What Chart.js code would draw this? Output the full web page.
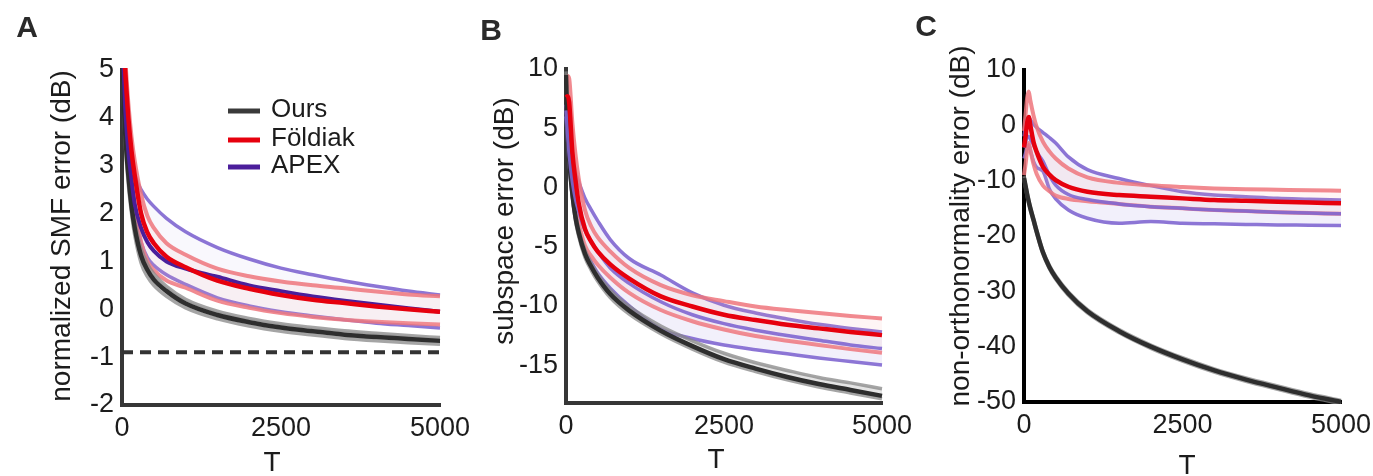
<!DOCTYPE html>
<html><head><meta charset="utf-8">
<script src="https://cdn.jsdelivr.net/npm/chart.js@4/dist/chart.umd.min.js"></script>
<style>
html,body{margin:0;padding:0;background:#fff;width:1373px;height:476px;overflow:hidden}
canvas{position:absolute;left:0;top:0}
</style></head>
<body>
<canvas id="cA" width="1373" height="476"></canvas>
<canvas id="cB" width="1373" height="476"></canvas>
<canvas id="cC" width="1373" height="476"></canvas>
<script>
// ---------- data ----------
const seriesNames = ['Ours', 'Földiak', 'APEX'];
const xTicks = [0, 2500, 5000];
const yTicksA = [-2, -1, 0, 1, 2, 3, 4, 5];
const yTicksB = [-15, -10, -5, 0, 5, 10];
const yTicksC = [-50, -40, -30, -20, -10, 0, 10];
const baselineA = -0.9;

// Panel A: normalized SMF error (dB)
const T_A = [0, 25, 50, 100, 150, 200, 300, 400, 500, 700, 1000, 1500, 2000, 2500, 3000, 3500, 4000, 4500, 5000];
const oursA    = [6.0, 4.5, 3.7, 2.8, 2.15, 1.7, 1.12, 0.82, 0.62, 0.38, 0.12, -0.12, -0.27, -0.38, -0.46, -0.53, -0.58, -0.62, -0.66];
const oursA_hi = [6.2, 4.7, 3.9, 3.0, 2.3, 1.85, 1.27, 0.95, 0.74, 0.48, 0.21, -0.04, -0.19, -0.30, -0.38, -0.45, -0.50, -0.55, -0.59];
const oursA_lo = [5.8, 4.3, 3.5, 2.6, 2.0, 1.55, 0.97, 0.68, 0.50, 0.27, 0.03, -0.20, -0.35, -0.46, -0.54, -0.61, -0.66, -0.70, -0.73];
const foldA    = [6.5, 5.6, 5.0, 4.0, 3.3, 2.8, 2.0, 1.6, 1.38, 1.1, 0.88, 0.60, 0.43, 0.30, 0.20, 0.13, 0.06, 0.00, -0.05];
const foldA_hi = [7.0, 6.0, 5.3, 4.3, 3.6, 3.1, 2.4, 1.95, 1.7, 1.38, 1.14, 0.85, 0.69, 0.58, 0.50, 0.44, 0.37, 0.31, 0.27];
const foldA_lo = [6.0, 5.2, 4.6, 3.5, 2.8, 2.2, 1.4, 1.0, 0.82, 0.60, 0.45, 0.18, 0.03, -0.08, -0.16, -0.22, -0.26, -0.29, -0.32];
const apexA    = [6.0, 5.0, 4.2, 3.3, 2.7, 2.2, 1.7, 1.4, 1.22, 1.0, 0.85, 0.68, 0.50, 0.38, 0.27, 0.18, 0.10, 0.02, -0.05];
const apexA_hi = [6.5, 5.4, 4.6, 3.6, 3.1, 2.8, 2.5, 2.3, 2.15, 1.9, 1.62, 1.29, 1.05, 0.86, 0.72, 0.59, 0.48, 0.38, 0.30];
const apexA_lo = [5.5, 4.6, 3.9, 3.0, 2.4, 1.95, 1.4, 1.08, 0.92, 0.72, 0.52, 0.24, 0.07, -0.05, -0.14, -0.22, -0.29, -0.34, -0.39];

// Panel B: subspace error (dB)
const T_B = [0, 25, 50, 100, 150, 200, 300, 400, 500, 700, 1000, 1500, 2000, 2500, 3000, 3500, 4000, 4500, 5000];
const oursB    = [9.5, 5.0, 2.5, -0.5, -2.5, -3.8, -5.6, -6.7, -7.6, -9.0, -10.4, -12.1, -13.4, -14.5, -15.3, -16.0, -16.6, -17.1, -17.6];
const oursB_hi = [9.8, 5.3, 2.8, -0.2, -2.2, -3.5, -5.3, -6.4, -7.3, -8.65, -10.05, -11.7, -12.95, -14.0, -14.8, -15.45, -16.05, -16.5, -17.0];
const oursB_lo = [9.2, 4.7, 2.2, -0.8, -2.8, -4.1, -5.9, -7.0, -7.9, -9.3, -10.7, -12.35, -13.65, -14.75, -15.55, -16.25, -16.85, -17.35, -17.85];
const foldB    = [7.6, 7.7, 7.2, 3.0, 0.6, -1.3, -3.5, -4.6, -5.4, -6.5, -7.7, -9.2, -10.05, -10.75, -11.2, -11.6, -11.9, -12.2, -12.47];
const foldB_hi = [9.3, 9.4, 9.2, 5.5, 2.8, 0.8, -1.9, -3.3, -4.2, -5.4, -6.8, -8.25, -9.1, -9.6, -10.05, -10.35, -10.6, -10.85, -11.06];
const foldB_lo = [6.0, 6.0, 5.5, 1.2, -1.1, -2.9, -4.9, -5.8, -6.5, -7.6, -8.9, -10.35, -11.3, -12.0, -12.55, -12.95, -13.3, -13.65, -13.96];
const apexB    = [6.5, 4.5, 2.8, 0.5, -1.0, -2.0, -3.6, -4.6, -5.4, -6.8, -8.1, -9.65, -10.75, -11.5, -12.05, -12.5, -12.9, -13.3, -13.6];
const apexB_hi = [7.0, 5.5, 4.0, 2.8, 1.3, 0.5, -0.9, -1.9, -2.8, -4.4, -6.0, -7.4, -8.9, -9.95, -10.6, -11.1, -11.55, -11.9, -12.2];
const apexB_lo = [6.0, 4.0, 2.0, -0.8, -2.6, -3.7, -5.3, -6.3, -7.2, -8.5, -10.0, -11.95, -12.75, -13.3, -13.7, -14.05, -14.4, -14.7, -15.0];

// Panel C: non-orthonormality error (dB)
const T_C = [0, 25, 50, 75, 100, 150, 200, 300, 400, 500, 700, 1000, 1500, 2000, 2500, 3000, 3500, 4000, 4500, 5000];
const oursC    = [-9.5, -11.0, -12.5, -13.8, -15.0, -17.1, -19.2, -23.0, -25.6, -27.5, -30.4, -33.6, -37.2, -40.0, -42.3, -44.3, -45.95, -47.4, -48.8, -50.0];
const oursC_hi = [-9.2, -10.7, -12.2, -13.5, -14.7, -16.8, -18.9, -22.7, -25.3, -27.2, -30.1, -33.3, -36.9, -39.7, -42.0, -44.0, -45.65, -47.1, -48.5, -49.7];
const oursC_lo = [-9.8, -11.3, -12.8, -14.1, -15.3, -17.4, -19.5, -23.3, -25.9, -27.8, -30.7, -33.9, -37.5, -40.3, -42.6, -44.6, -46.25, -47.7, -49.1, -50.3];
const foldC    = [-4.0, -2.0, 0.5, 1.5, 0.0, -3.0, -4.8, -7.5, -8.9, -9.9, -11.1, -12.0, -12.6, -12.9, -13.2, -13.5, -13.65, -13.8, -13.95, -14.1];
const foldC_hi = [-1.0, 2.0, 5.0, 6.1, 4.5, 1.8, -0.3, -3.0, -4.7, -6.0, -7.8, -9.4, -10.4, -10.85, -11.15, -11.4, -11.55, -11.65, -11.75, -11.8];
const foldC_lo = [-9.0, -7.0, -4.5, -3.2, -4.5, -7.0, -8.8, -10.9, -11.9, -12.7, -13.3, -13.7, -14.2, -14.7, -15.0, -15.3, -15.5, -15.7, -15.85, -16.0];
const apexC    = [-4.0, -3.0, -2.0, -2.0, -2.5, -3.5, -4.8, -6.5, -9.0, -10.8, -12.5, -13.4, -14.2, -14.7, -15.0, -15.3, -15.5, -15.7, -15.85, -16.0];
const apexC_hi = [-2.0, 0.0, 1.0, 1.5, 1.0, 0.2, -0.4, -1.3, -2.2, -3.2, -5.7, -8.0, -9.6, -10.9, -12.0, -12.6, -12.9, -13.2, -13.35, -13.5];
const apexC_lo = [-6.0, -5.0, -4.0, -3.5, -4.5, -6.5, -7.6, -8.3, -11.5, -13.3, -15.3, -16.8, -17.7, -17.4, -17.7, -17.8, -17.9, -18.0, -18.05, -18.1];

// ---------- styling ----------
const FONT = '"Liberation Sans", Arial, Helvetica, sans-serif';
const COL = {
  ours: '#2e2e2e', oursEdge: 'rgba(135,135,135,0.75)', oursFill: 'rgba(165,165,165,0.30)',
  fold: '#e6000e', foldEdge: 'rgba(238,118,124,0.85)', foldFill: 'rgba(245,170,175,0.12)',
  apexEdge: 'rgba(128,102,208,0.9)'
};
const legendColors = ['#3a3a3a', '#e6000e', '#4b1e9b'];

function pts(xs, ys) { return xs.map((x, i) => ({ x: x, y: ys[i] })); }
function line(data, color, width, extra) {
  return Object.assign({ data: data, borderColor: color, borderWidth: width, pointRadius: 0,
    fill: false, cubicInterpolationMode: 'monotone', clip: 2 }, extra || {});
}
function buildDatasets(T, s, st, baseline) {
  const ds = [];
  if (baseline !== undefined) {
    ds.push(line([{ x: T[0], y: baseline }, { x: T[T.length - 1], y: baseline }], '#333', 4,
      { borderDash: [11, 7], cubicInterpolationMode: 'default' }));
  }
  ds.push(line(pts(T, s.fold), COL.fold, 4.5));
  ds.push(line(pts(T, s.apex), st.apexMean, st.apexMeanW));
  ds.push(line(pts(T, s.ours), COL.ours, 4.5));
  const n = ds.length;
  ds.push(line(pts(T, s.oursHi), COL.oursEdge, 3.5, { fill: n + 1, backgroundColor: COL.oursFill }));
  ds.push(line(pts(T, s.oursLo), COL.oursEdge, 3.5));
  ds.push(line(pts(T, s.foldHi), COL.foldEdge, 4, { fill: n + 3, backgroundColor: COL.foldFill }));
  ds.push(line(pts(T, s.foldLo), COL.foldEdge, 4));
  ds.push(line(pts(T, s.apexHi), COL.apexEdge, 3.5, { fill: n + 5, backgroundColor: st.apexFill }));
  ds.push(line(pts(T, s.apexLo), COL.apexEdge, 3.5));
  return ds;
}

function drawAnnot(c, a) {
  c.save();
  c.textAlign = 'center';
  c.textBaseline = 'middle';
  c.font = 'bold 30px ' + FONT;
  c.fillStyle = '#2a2a2a';
  c.fillText(a.letter, a.letterX, a.letterY);
  c.fillStyle = '#1c1c1c';
  c.font = '28px ' + FONT;
  c.fillText('T', a.xTitleX, a.xTitleY);
  c.save();
  c.translate(a.yTitleX, a.yTitleY);
  c.rotate(-Math.PI / 2);
  c.fillText(a.yTitle, 0, 0);
  c.restore();
  if (a.legend) {
    const L = a.legend;
    c.font = '26px ' + FONT;
    c.textAlign = 'left';
    seriesNames.forEach((name, i) => {
      const y = L.ys[i];
      c.strokeStyle = legendColors[i];
      c.lineWidth = 5;
      c.beginPath(); c.moveTo(L.x1, y); c.lineTo(L.x2, y); c.stroke();
      c.fillStyle = '#1c1c1c';
      c.fillText(name, L.tx, y - 1);
    });
  }
  c.restore();
}

function makeChart(id, cfg) {
  const area = cfg.area;
  const tickFont = { family: FONT, size: 27 };
  new Chart(document.getElementById(id), {
    type: 'line',
    data: { datasets: cfg.datasets },
    options: {
      responsive: false, animation: false, devicePixelRatio: 1,
      layout: { padding: { left: 0, right: 1373 - area.right, top: area.top, bottom: 0 } },
      plugins: { legend: { display: false }, tooltip: { enabled: false } },
      scales: {
        x: {
          type: 'linear', min: 0, max: 5000,
          grid: { display: false, drawTicks: false },
          border: { display: true, color: cfg.axisColor, width: 4 },
          ticks: { font: tickFont, color: '#1c1c1c', padding: 7, maxRotation: 0, autoSkip: false,
            callback: v => String(v) },
          afterBuildTicks: sc => { sc.ticks = xTicks.map(v => ({ value: v })); },
          afterFit: sc => { sc.height = 476 - area.bottom; sc.paddingLeft = 0; sc.paddingRight = 0; }
        },
        y: {
          type: 'linear', min: cfg.yMin, max: cfg.yMax,
          grid: { display: false, drawTicks: false },
          border: { display: true, color: cfg.axisColor, width: 4 },
          ticks: { font: tickFont, color: '#1c1c1c', padding: 8, autoSkip: false,
            callback: v => String(v) },
          afterBuildTicks: sc => { sc.ticks = cfg.yTicks.map(v => ({ value: v })); },
          afterFit: sc => { sc.width = area.left; sc.paddingTop = 0; sc.paddingBottom = 0; }
        }
      }
    },
    plugins: [{ id: 'annot' + id, afterDraw: chart => drawAnnot(chart.ctx, cfg.annot) }]
  });
}

makeChart('cA', {
  area: { left: 122, right: 440, top: 70, bottom: 405 },
  yMin: -2, yMax: 5, yTicks: yTicksA, axisColor: '#363636',
  datasets: buildDatasets(T_A, { ours: oursA, oursHi: oursA_hi, oursLo: oursA_lo,
    fold: foldA, foldHi: foldA_hi, foldLo: foldA_lo, apex: apexA, apexHi: apexA_hi, apexLo: apexA_lo },
    { apexMean: '#4a1f9b', apexMeanW: 4, apexFill: 'rgba(150,130,225,0.06)' }, baselineA),
  annot: { letter: 'A', letterX: 27, letterY: 29, xTitleX: 272, xTitleY: 463,
    yTitle: 'normalized SMF error (dB)', yTitleX: 62, yTitleY: 236,
    legend: { x1: 228, x2: 260, tx: 271, ys: [111, 140, 167] } }
});
makeChart('cB', {
  area: { left: 566, right: 882, top: 69, bottom: 403 },
  yMin: -18.2, yMax: 10, yTicks: yTicksB, axisColor: '#363636',
  datasets: buildDatasets(T_B, { ours: oursB, oursHi: oursB_hi, oursLo: oursB_lo,
    fold: foldB, foldHi: foldB_hi, foldLo: foldB_lo, apex: apexB, apexHi: apexB_hi, apexLo: apexB_lo },
    { apexMean: 'rgba(128,102,208,0.9)', apexMeanW: 3.5, apexFill: 'rgba(150,130,225,0.12)' }),
  annot: { letter: 'B', letterX: 491, letterY: 32, xTitleX: 716, xTitleY: 460,
    yTitle: 'subspace error (dB)', yTitleX: 505, yTitleY: 221 }
});
makeChart('cC', {
  area: { left: 1024, right: 1341, top: 70, bottom: 402 },
  yMin: -50, yMax: 10, yTicks: yTicksC, axisColor: '#000000',
  datasets: buildDatasets(T_C, { ours: oursC, oursHi: oursC_hi, oursLo: oursC_lo,
    fold: foldC, foldHi: foldC_hi, foldLo: foldC_lo, apex: apexC, apexHi: apexC_hi, apexLo: apexC_lo },
    { apexMean: 'rgba(128,102,208,0.9)', apexMeanW: 3.5, apexFill: 'rgba(150,130,225,0.12)' }),
  annot: { letter: 'C', letterX: 926, letterY: 28, xTitleX: 1187, xTitleY: 466,
    yTitle: 'non-orthonormality error (dB)', yTitleX: 961, yTitleY: 226 }
});
</script>
</body></html>
